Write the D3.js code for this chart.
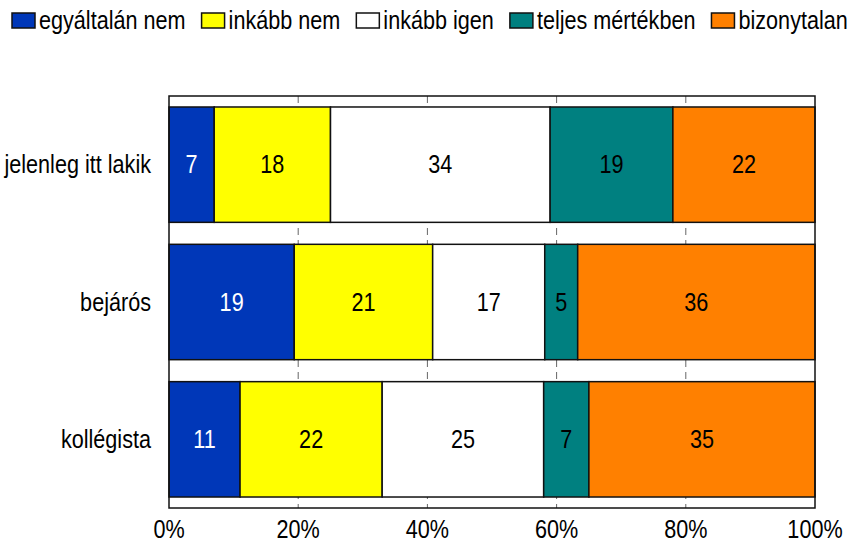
<!DOCTYPE html>
<html>
<head>
<meta charset="utf-8">
<script src="https://cdn.jsdelivr.net/npm/d3@7"></script>
<style>
  body { margin: 0; background: #fff; }
  svg text { font-family: "Liberation Sans", Arial, sans-serif; fill: #000; }
</style>
</head>
<body>
<svg id="chart" width="863" height="542"></svg>
<script>
// categories (top to bottom)
const categories = ['jelenleg itt lakik', 'bejárós', 'kollégista'];
// answer options, in stack order
const seriesNames = ['egyáltalán nem', 'inkább nem', 'inkább igen', 'teljes mértékben', 'bizonytalan'];
const seriesColors = ['#0037b8', '#ffff00', '#ffffff', '#008080', '#ff8000'];
const labelColors = ['#fff', '#000', '#000', '#000', '#000'];
// values per category, same order as seriesNames
const jelenlegValues = [7, 18, 34, 19, 22];
const bejarosValues = [19, 21, 17, 5, 36];
const kollegistaValues = [11, 22, 25, 7, 35];
const tickValues = [0, 0.2, 0.4, 0.6, 0.8, 1];

const rows = [jelenlegValues, bejarosValues, kollegistaValues];

var config = {
  left: 169,
  right: 815,
  top: 96,
  bottom: 508,
  fontSize: 25,
  narrow: 0.865   // no Arial Narrow here, so squeeze Liberation Sans
};

function place(x, y) {
  return 'translate(' + x + ',' + y + ') scale(' + config.narrow + ',1)';
}

const svg = d3.select('#chart');

const x = d3.scaleLinear().domain([0, 1]).range([config.left, config.right]);
const y = d3.scaleBand().domain(categories)
  .range([config.top, config.bottom])
  .paddingInner(0.16)
  .paddingOuter(0.08);

// build stacked segments, normalised to 100%
const segments = [];
rows.forEach(function (vals, ri) {
  const total = d3.sum(vals);
  var acc = 0;
  vals.forEach(function (v, si) {
    segments.push({ cat: categories[ri], series: si, value: v, x0: acc / total, x1: (acc + v) / total });
    acc += v;
  });
});

// dashed grid behind the bars
svg.append('g').selectAll('line')
  .data(tickValues.slice(1, -1))
  .enter().append('line')
  .attr('x1', d => x(d)).attr('x2', d => x(d))
  .attr('y1', config.top).attr('y2', config.bottom)
  .attr('stroke', '#666').attr('stroke-width', 1)
  .attr('stroke-dasharray', '7,5');

// bars
svg.append('g').selectAll('rect')
  .data(segments)
  .enter().append('rect')
  .attr('x', d => x(d.x0))
  .attr('y', d => y(d.cat))
  .attr('width', d => x(d.x1) - x(d.x0))
  .attr('height', y.bandwidth())
  .attr('fill', d => seriesColors[d.series])
  .attr('stroke', '#111')
  .attr('stroke-width', 1.5);

// value labels
svg.append('g').selectAll('text')
  .data(segments)
  .enter().append('text')
  .attr('transform', d => place((x(d.x0) + x(d.x1)) / 2, y(d.cat) + y.bandwidth() / 2))
  .attr('dy', '0.35em')
  .attr('text-anchor', 'middle')
  .style('font-size', config.fontSize + 'px')
  .style('fill', d => labelColors[d.series])
  .text(d => d.value);

// frame
svg.append('rect')
  .attr('x', config.left).attr('y', config.top)
  .attr('width', config.right - config.left)
  .attr('height', config.bottom - config.top)
  .attr('fill', 'none').attr('stroke', '#111').attr('stroke-width', 1.5);

// x axis labels
svg.append('g').selectAll('text')
  .data(tickValues)
  .enter().append('text')
  .attr('transform', d => place(x(d), 538))
  .attr('text-anchor', 'middle')
  .style('font-size', config.fontSize + 'px')
  .text(d3.format('.0%'));

// category labels
svg.append('g').selectAll('text')
  .data(categories)
  .enter().append('text')
  .attr('transform', d => place(151, y(d) + y.bandwidth() / 2))
  .attr('dy', '0.35em')
  .attr('text-anchor', 'end')
  .style('font-size', config.fontSize + 'px')
  .text(d => d);

// legend
const legend = svg.append('g');
var lx = 12;
seriesNames.forEach(function (name, i) {
  legend.append('rect')
    .attr('x', lx).attr('y', 13)
    .attr('width', 23).attr('height', 15)
    .attr('fill', seriesColors[i])
    .attr('stroke', '#111').attr('stroke-width', 1.5);
  const t = legend.append('text')
    .attr('transform', place(lx + 27, 29))
    .style('font-size', config.fontSize + 'px')
    .text(name);
  lx += 27 + t.node().getComputedTextLength() * config.narrow + 16;
});
</script>
</body>
</html>
